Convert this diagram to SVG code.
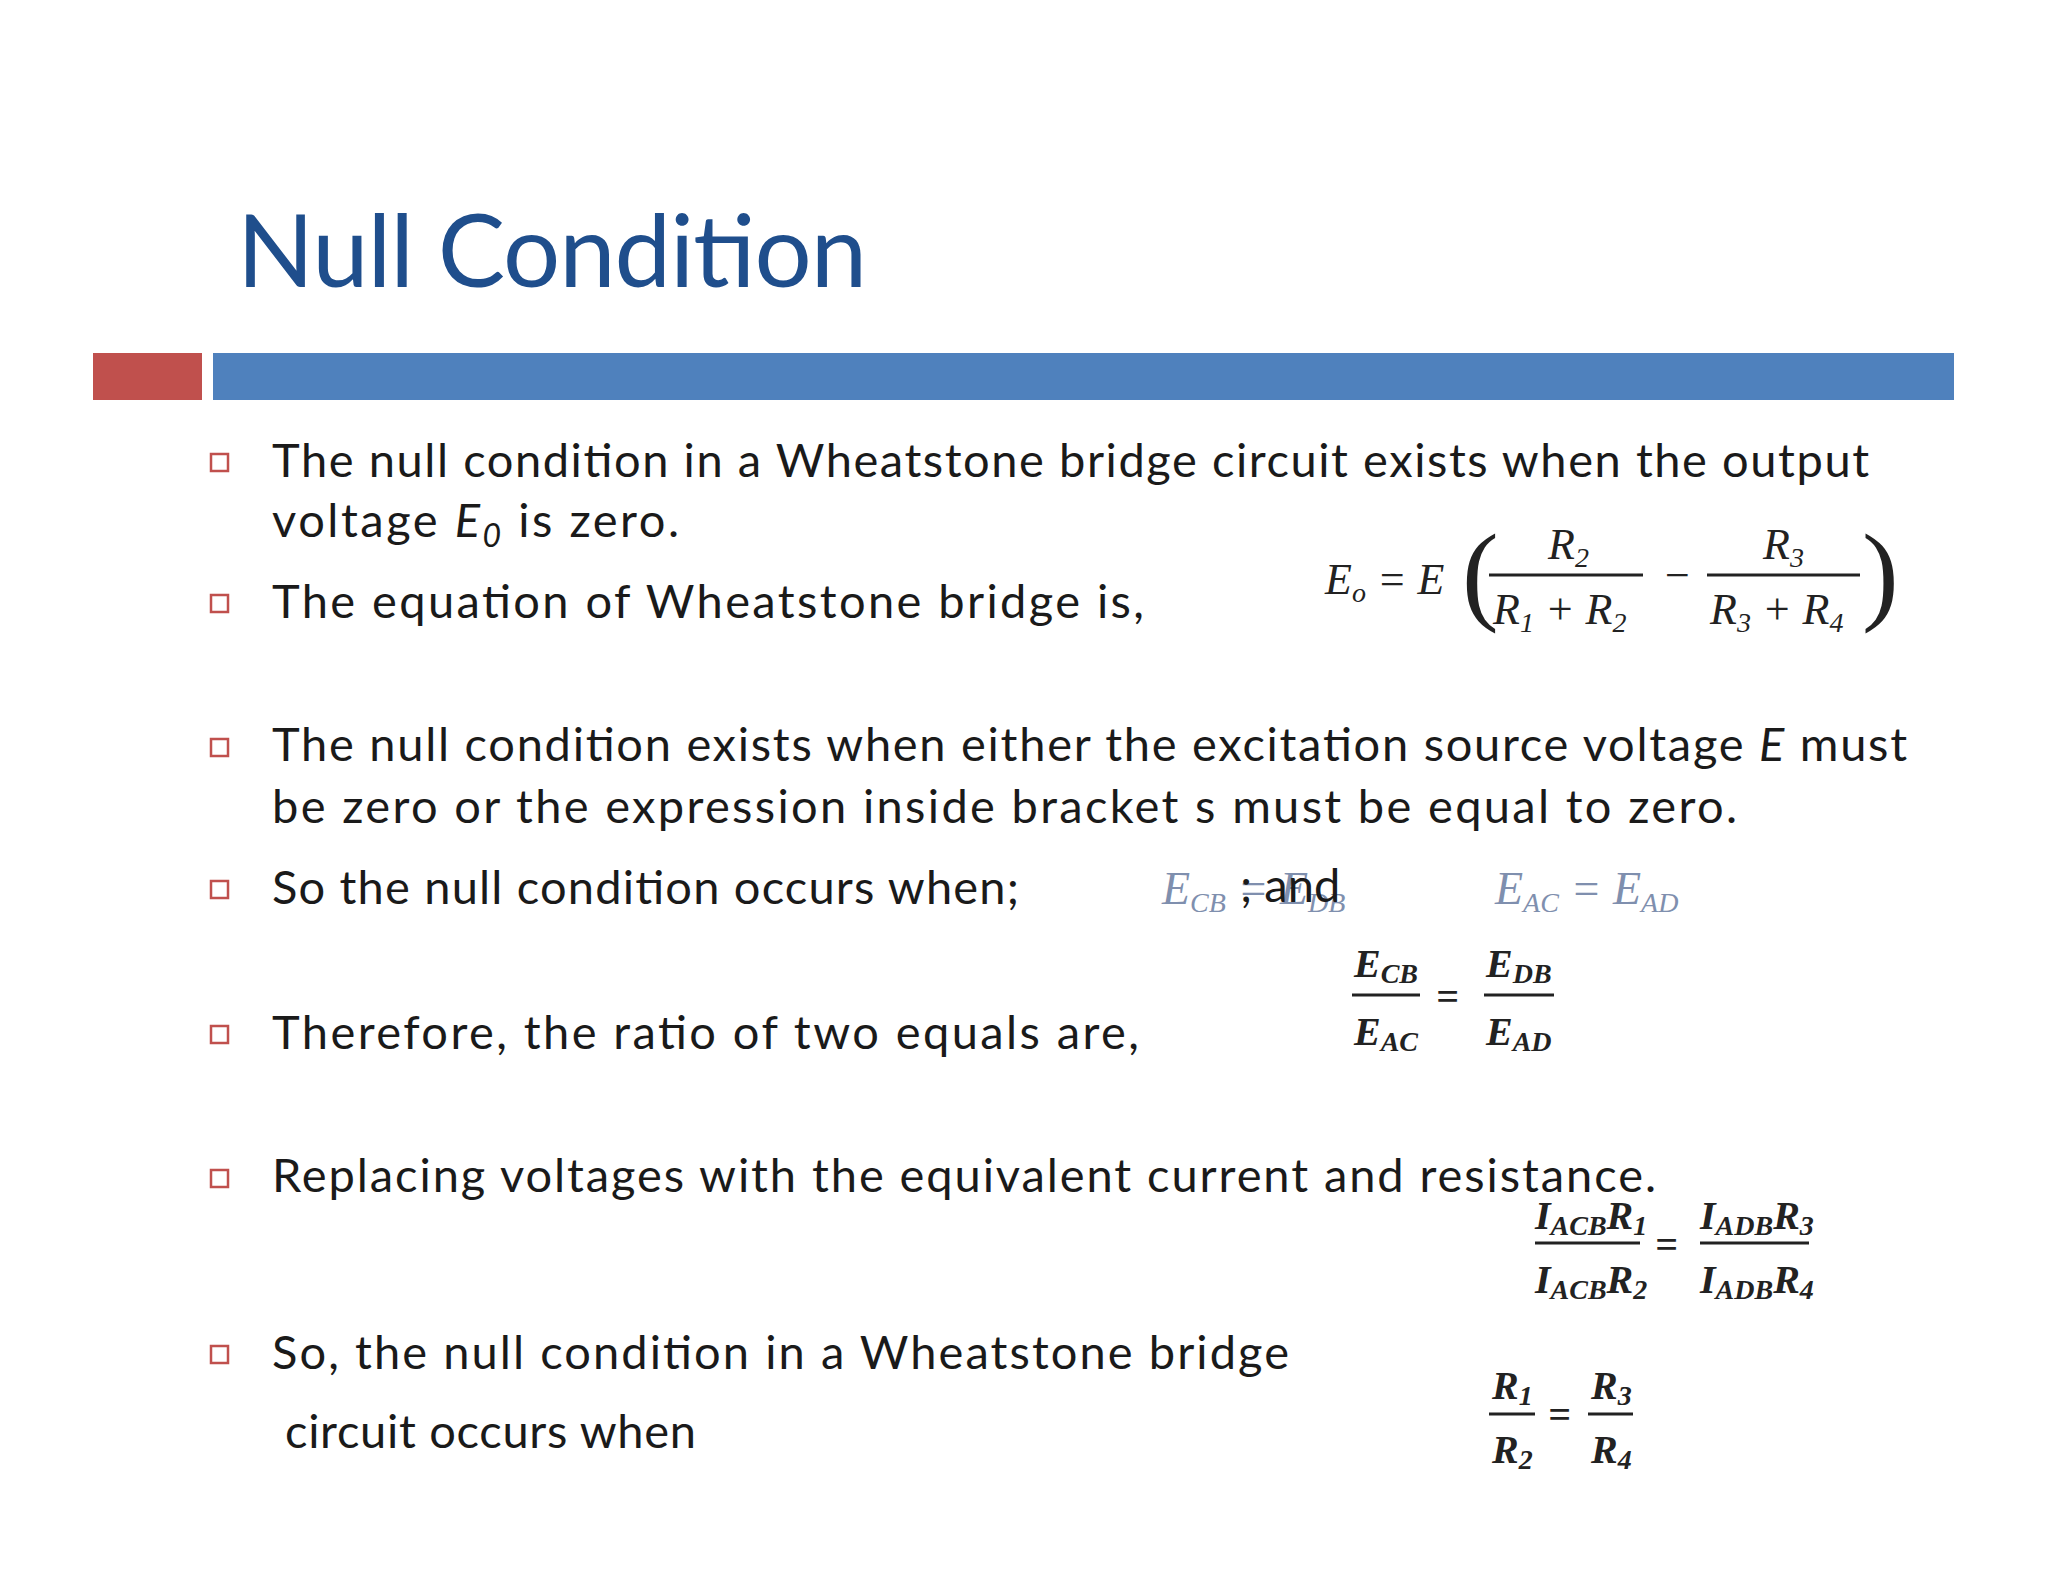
<svg xmlns="http://www.w3.org/2000/svg" width="2048" height="1582" viewBox="0 0 2048 1582">
<style>
.t{font-family:Lato,"Open Sans",sans-serif;font-size:47px;fill:#1a1a1a}
.m{font-family:"Liberation Serif",serif;font-style:italic;font-size:44px;fill:#222}
.b{font-family:"Liberation Serif",serif;font-style:italic;font-weight:bold;font-size:40px;fill:#222}
.g{font-family:"Liberation Serif",serif;font-style:italic;font-size:46px;fill:#7f8fae}
.s{font-size:28px}
.bul{fill:none;stroke:#c0504d;stroke-width:2.5}
.fl{stroke:#222;stroke-width:3}
</style>
<rect width="2048" height="1582" fill="#fff"/>
<g id="title"><text x="237" y="287" font-family="Lato,'Open Sans',sans-serif" font-size="101" fill="#1f4e8c" textLength="630">Null Condition</text></g>
<g id="bars"><rect x="93" y="353" width="109" height="47" fill="#c0504d"/><rect x="213" y="353" width="1741" height="47" fill="#4f81bd"/></g>
<g id="bullets">
<rect class="bul" x="211" y="454" width="17" height="17"/>
<rect class="bul" x="211" y="595" width="17" height="17"/>
<rect class="bul" x="211" y="739" width="17" height="17"/>
<rect class="bul" x="211" y="881" width="17" height="17"/>
<rect class="bul" x="211" y="1026" width="17" height="17"/>
<rect class="bul" x="211" y="1170" width="17" height="17"/>
<rect class="bul" x="211" y="1346" width="17" height="17"/>
</g>
<g id="text">
<text class="t" x="272" y="477" textLength="1597">The null condition in a Wheatstone bridge circuit exists when the output</text>
<text class="t" x="272" y="537" textLength="407">voltage <tspan font-style="italic">E</tspan><tspan font-style="italic" font-size="32" dy="10">0</tspan><tspan dy="-10"> is zero.</tspan></text>
<text class="t" x="272" y="618" textLength="872">The equation of Wheatstone bridge is,</text>
<text class="t" x="272" y="761" textLength="1635">The null condition exists when either the excitation source voltage <tspan font-style="italic">E</tspan> must</text>
<text class="t" x="272" y="823" textLength="1465">be zero or the expression inside bracket s must be equal to zero.</text>
<text class="t" x="272" y="904" textLength="747">So the null condition occurs when;</text>
<text class="t" x="272" y="1049" textLength="867">Therefore, the ratio of two equals are,</text>
<text class="t" x="272" y="1192" textLength="1384">Replacing voltages with the equivalent current and resistance.</text>
<text class="t" x="272" y="1369" textLength="1017">So, the null condition in a Wheatstone bridge</text>
<text class="t" x="285" y="1448" textLength="411">circuit occurs when</text>
</g>
<g id="eq1">
<text class="m" x="1325" y="594">E<tspan class="s" dy="8">o</tspan><tspan dy="-8"> = E</tspan></text>
<text x="1462" y="610" font-family="Liberation Serif,serif" font-size="110" fill="#222">(</text>
<text x="1862" y="610" font-family="Liberation Serif,serif" font-size="110" fill="#222">)</text>
<line class="fl" x1="1489" y1="575" x2="1643" y2="575"/>
<line class="fl" x1="1707" y1="575" x2="1860" y2="575"/>
<text class="m" x="1548" y="559">R<tspan class="s" dy="8">2</tspan></text>
<text class="m" x="1493" y="624">R<tspan class="s" dy="8">1</tspan><tspan dy="-8"> + R</tspan><tspan class="s" dy="8">2</tspan></text>
<text x="1665" y="590" font-family="Liberation Serif,serif" font-size="44" fill="#222">−</text>
<text class="m" x="1763" y="559">R<tspan class="s" dy="8">3</tspan></text>
<text class="m" x="1710" y="624">R<tspan class="s" dy="8">3</tspan><tspan dy="-8"> + R</tspan><tspan class="s" dy="8">4</tspan></text>
</g>
<g id="eq2">
<text class="g" x="1162" y="904">E<tspan class="s" dy="8">CB</tspan><tspan dy="-8"> = E</tspan><tspan class="s" dy="8">DB</tspan></text>
<text class="t" x="1240" y="902">; and</text>
<text class="g" x="1495" y="904">E<tspan class="s" dy="8">AC</tspan><tspan dy="-8"> = E</tspan><tspan class="s" dy="8">AD</tspan></text>
</g>
<g id="eq3">
<line class="fl" x1="1352" y1="995" x2="1420" y2="995"/>
<line class="fl" x1="1484" y1="995" x2="1554" y2="995"/>
<text class="b" x="1354" y="977">E<tspan class="s" dy="6">CB</tspan></text>
<text class="b" x="1354" y="1045">E<tspan class="s" dy="6">AC</tspan></text>
<text class="b" x="1436" y="1010">=</text>
<text class="b" x="1486" y="977">E<tspan class="s" dy="6">DB</tspan></text>
<text class="b" x="1486" y="1045">E<tspan class="s" dy="6">AD</tspan></text>
</g>
<g id="eq4">
<line class="fl" x1="1535" y1="1243" x2="1640" y2="1243"/>
<line class="fl" x1="1700" y1="1243" x2="1809" y2="1243"/>
<text class="b" x="1535" y="1229">I<tspan class="s" dy="6">ACB</tspan><tspan dy="-6">R</tspan><tspan class="s" dy="6">1</tspan></text>
<text class="b" x="1535" y="1293">I<tspan class="s" dy="6">ACB</tspan><tspan dy="-6">R</tspan><tspan class="s" dy="6">2</tspan></text>
<text class="b" x="1655" y="1258">=</text>
<text class="b" x="1700" y="1229">I<tspan class="s" dy="6">ADB</tspan><tspan dy="-6">R</tspan><tspan class="s" dy="6">3</tspan></text>
<text class="b" x="1700" y="1293">I<tspan class="s" dy="6">ADB</tspan><tspan dy="-6">R</tspan><tspan class="s" dy="6">4</tspan></text>
</g>
<g id="eq5">
<line class="fl" x1="1489" y1="1414" x2="1535" y2="1414"/>
<line class="fl" x1="1588" y1="1414" x2="1633" y2="1414"/>
<text class="b" x="1492" y="1399">R<tspan class="s" dy="6">1</tspan></text>
<text class="b" x="1492" y="1463">R<tspan class="s" dy="6">2</tspan></text>
<text class="b" x="1548" y="1428">=</text>
<text class="b" x="1591" y="1399">R<tspan class="s" dy="6">3</tspan></text>
<text class="b" x="1591" y="1463">R<tspan class="s" dy="6">4</tspan></text>
</g>
</svg>
